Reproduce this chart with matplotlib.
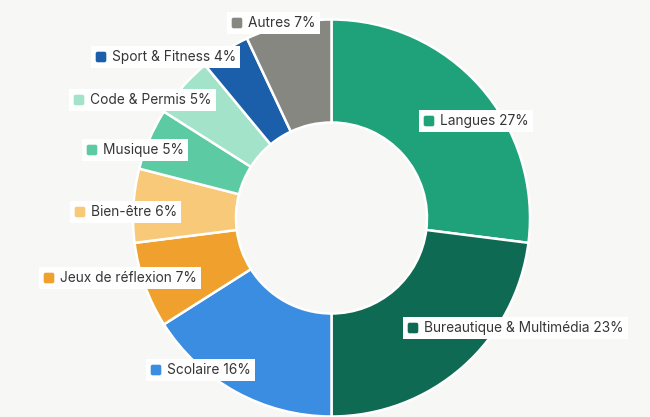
import matplotlib
matplotlib.use("Agg")
import matplotlib.pyplot as plt
from matplotlib.offsetbox import AnnotationBbox, HPacker, DrawingArea, TextArea
from matplotlib.patches import FancyBboxPatch

categories = ["Langues", "Bureautique & Multimédia", "Scolaire", "Jeux de réflexion",
              "Bien-être", "Musique", "Code & Permis", "Sport & Fitness", "Autres"]
values = [27, 23, 16, 7, 6, 5, 5, 4, 7]
colors = ["#1fa27a", "#0f6a53", "#3a8de0", "#f0a02c", "#f9c97a", "#5ccaa2",
          "#a2e3ca", "#1b5ea9", "#878781"]

# label box anchor (left edge x, center y) in pixel coordinates from the top-left
label_pos = [(423, 121), (407, 328), (150, 370), (43, 278), (74, 212),
             (86, 150), (73, 100), (95, 57), (231, 23)]

W, H = 650, 417
DPI = 100
BG = "#f7f7f5"
fig = plt.figure(figsize=(W / DPI, H / DPI), dpi=DPI, facecolor=BG)
ax = fig.add_axes([0, 0, 1, 1])
ax.set_facecolor(BG)

cx, cy, R = 331.5, H - 218, 198.5
inner = 95.5
ax.pie(values, colors=colors, startangle=90, counterclock=False,
       center=(cx, cy), radius=R, frame=True,
       wedgeprops=dict(width=R - inner, edgecolor="white", linewidth=1.8))
ax.set_xlim(0, W)
ax.set_ylim(0, H)
ax.set_aspect("equal")
ax.axis("off")

px2pt = 72 / DPI
for cat, val, col, (lx, ly) in zip(categories, values, colors, label_pos):
    sq = 12 * px2pt
    da = DrawingArea(sq, sq, 0, 0)
    da.add_artist(FancyBboxPatch((0.5, 0.5), sq - 1.0, sq - 1.0,
                                 boxstyle="round,pad=0,rounding_size=1.4",
                                 facecolor=col, edgecolor="none"))
    ta = TextArea(f"{cat} {val}%", textprops=dict(color="#363636", fontsize=9.9,
                                                    family=["Inter", "DejaVu Sans"]))
    pack = HPacker(children=[da, ta], align="center", pad=0, sep=5 * px2pt)
    ab = AnnotationBbox(pack, (lx, H - ly), xycoords="data", box_alignment=(0, 0.5),
                        frameon=True, pad=0.4,
                        bboxprops=dict(facecolor="white", edgecolor="none", boxstyle="square"))
    ax.add_artist(ab)

fig.savefig("out.png", dpi=DPI, facecolor=BG)
